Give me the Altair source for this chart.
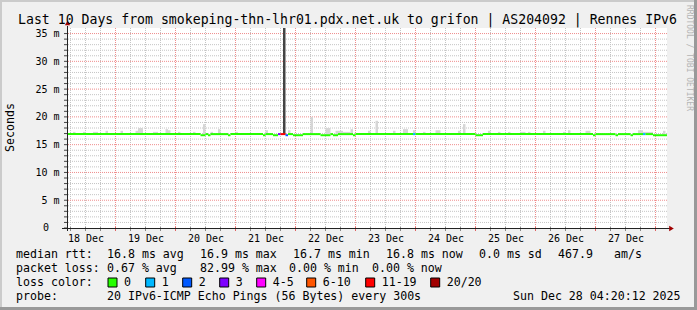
import altair as alt
import pandas as pd

FONT = "DejaVu Sans Mono"

# ---------------- data ----------------
TITLE = "Last 10 Days from smokeping-thn-lhr01.pdx.net.uk to grifon | AS204092 | Rennes IPv6"
Y_TITLE = "Seconds"
WATERMARK = "RRDTOOL / TOBI OETIKER"
DAY_LABELS = ["18 Dec", "19 Dec", "20 Dec", "21 Dec", "22 Dec",
              "23 Dec", "24 Dec", "25 Dec", "26 Dec", "27 Dec"]
DAY_NOON_HOURS = [12, 36, 60, 84, 108, 132, 156, 180, 204, 228]   # hours since 18 Dec 00:00
MIDNIGHT_HOURS = [24, 48, 72, 96, 120, 144, 168, 192, 216, 240]
SIX_HOUR_MARKS = [6, 12, 18, 30, 36, 42, 54, 60, 66, 78, 84, 90, 102, 108, 114,
                  126, 132, 138, 150, 156, 162, 174, 180, 186, 198, 204, 210,
                  222, 228, 234]
Y_TICKS = [5, 10, 15, 20, 25, 30, 35]
Y_MINOR = [1, 2, 3, 4, 6, 7, 8, 9, 11, 12, 13, 14, 16, 17, 18, 19, 21, 22, 23, 24,
           26, 27, 28, 29, 31, 32, 33, 34]
Y_ALL = list(range(0, 36))
X_START, X_END = 4.6, 244.6
Y_MAX = 36

# median rtt (ms) per segment, with its loss class
seg_start = [4, 58, 60, 61, 62, 69, 70, 83, 84, 87, 89, 90, 92, 93, 95, 99, 106, 110,
             111, 113, 119, 120, 143, 144, 168, 171, 215, 216, 224, 225, 230, 231, 235,
             236, 239]
seg_end = [58, 60, 61, 62, 69, 70, 83, 84, 87, 89, 90, 92, 93, 95, 99, 106, 110, 111,
           113, 119, 120, 143, 144, 168, 171, 215, 216, 224, 225, 230, 231, 235, 236,
           239, 245]
seg_median = [16.9, 16.7, 16.9, 16.7, 16.9, 16.7, 16.9, 16.7, 16.9, 16.7, 16.9, 16.9,
              16.7, 16.9, 16.7, 16.9, 16.7, 16.9, 16.7, 16.9, 16.7, 16.9, 16.9, 16.9,
              16.7, 16.9, 16.7, 16.9, 16.7, 16.9, 16.7, 16.9, 16.9, 16.9, 16.7]
seg_loss = ["0", "0", "0", "0", "0", "0", "0", "0", "0", "0", "3", "11-19", "2", "0",
            "0", "0", "0", "0", "0", "0", "0", "0", "1", "0", "0", "0", "0", "0", "0",
            "0", "0", "0", "1", "0", "0"]

# smoke (spread of the pings above the median), ms
smoke_start = [7, 11, 15, 20, 26, 32, 33, 39, 44, 45, 49, 55, 59, 62, 65, 72, 84, 93,
               102, 108, 112, 115, 118, 125, 128, 135, 139, 143, 147, 152, 161, 163,
               173, 177, 181, 186, 189, 195, 203, 205, 212, 233, 235, 243]
smoke_end = [8, 12, 17, 21, 27, 33, 35, 41, 45, 46, 50, 56, 60, 63, 66, 73, 85, 94,
             103, 110, 115, 118, 119, 126, 129, 136, 141, 144, 148, 154, 162, 164,
             174, 178, 182, 188, 190, 196, 204, 206, 214, 235, 239, 244]
smoke_top = [17.3, 17.3, 17.3, 17.5, 17.5, 17.5, 18.0, 17.3, 17.8, 17.6, 17.3, 17.3,
             18.7, 17.3, 17.8, 17.3, 17.6, 17.6, 20.0, 18.0, 17.5, 17.3, 17.8, 17.5,
             19.3, 17.5, 17.8, 17.6, 17.3, 17.6, 17.5, 18.7, 17.5, 17.3, 17.3, 17.3,
             17.3, 17.5, 17.3, 17.6, 17.5, 17.6, 17.3, 17.5]
smoke_base = 16.8

# dense outlier smoke at the loss event
spike_start = [91]
spike_end = [92]
spike_top = [36]

LOSS_LABELS = ["0", "1", "2", "3", "4-5", "6-10", "11-19", "20/20"]
LOSS_COLORS = ["#26ff00", "#00b8ff", "#0059ff", "#7e00ff", "#ff00ff", "#ff5500",
               "#ff0000", "#a10000"]

RTT_STATS = ["16.8 ms avg", "16.9 ms max", "16.7 ms min", "16.8 ms now",
             "0.0 ms sd", "467.9", "am/s"]
LOSS_STATS = ["0.67 % avg", "82.99 % max", "0.00 % min", "0.00 % now"]
PROBE = "20 IPv6-ICMP Echo Pings (56 Bytes) every 300s"
STAMP = "Sun Dec 28 04:20:12 2025"

# ---------------- layout (pixels in the 697x310 canvas) ----------------
L, T, W, H = 67, 28, 600, 200
RTT_X = [107, 200, 293, 386, 479, 558, 614]
LOSS_X = [107, 200, 289, 372]
SWATCH_X = [108, 145.7, 182.7, 219.7, 256.7, 306.7, 365.7, 430.7]
ROW_Y = [258, 272, 286, 300]

xs = alt.Scale(domain=[X_START, X_END], nice=False, zero=False)
ys = alt.Scale(domain=[0, Y_MAX], nice=False, zero=True)
one = pd.DataFrame({"k": [0]})

labels_js = "[" + ",".join("'" + d + "'" for d in DAY_LABELS) + "]"
X_AXIS = alt.Axis(values=DAY_NOON_HOURS, labelExpr=labels_js + "[round((datum.value-12)/24)]",
                  title=None, domain=False, ticks=False, tickSize=0, grid=False,
                  labelFont=FONT, labelFontSize=10, labelColor="#000000",
                  labelPadding=13, labelBaseline="alphabetic", labelFlush=False,
                  labelOverlap=False)
Y_AXIS = alt.Axis(values=Y_TICKS, labelExpr="datum.value + ' m'", title=None,
                  domain=False, ticks=False, tickSize=0, grid=False,
                  labelFont=FONT, labelFontSize=10, labelColor="#000000",
                  labelPadding=8, labelAlign="right", labelBaseline="middle",
                  labelFlush=False, labelOverlap=False)


def X(field):
    return alt.X(field, scale=xs, axis=X_AXIS)


def Y(field):
    return alt.Y(field, scale=ys, axis=Y_AXIS)


def text(xa, ya, s, size=11.6, align="left", baseline="alphabetic",
         color="#000000", angle=0):
    return alt.Chart(one).mark_text(
        font=FONT, fontSize=size, align=align, baseline=baseline,
        color=color, angle=angle
    ).encode(x=alt.value(xa - L), y=alt.value(ya - T), text=alt.value(s))


def box(x1, y1, x2, y2, fill, stroke=""):
    kw = dict(fill=fill, opacity=1)
    if stroke:
        kw.update(stroke=stroke, strokeWidth=1)
    else:
        kw.update(strokeWidth=0)
    return alt.Chart(one).mark_rect(**kw).encode(
        x=alt.value(x1 - L), x2=alt.value(x2 - L),
        y=alt.value(y1 - T), y2=alt.value(y2 - T))


layers = []

# grid (full-span rules)
layers.append(alt.Chart(pd.DataFrame({"v": Y_MINOR})).mark_rule(
    color="#c4c4c4", strokeDash=[1, 1], strokeWidth=1).encode(y=Y("v:Q")))
layers.append(alt.Chart(pd.DataFrame({"h": SIX_HOUR_MARKS})).mark_rule(
    color="#c4c4c4", strokeDash=[1, 1], strokeWidth=1).encode(x=X("h:Q")))
layers.append(alt.Chart(pd.DataFrame({"v": Y_TICKS})).mark_rule(
    color="#ef8c8c", strokeDash=[1, 1], strokeWidth=1).encode(y=Y("v:Q")))
layers.append(alt.Chart(pd.DataFrame({"h": MIDNIGHT_HOURS})).mark_rule(
    color="#ef8c8c", strokeDash=[1, 1], strokeWidth=1).encode(x=X("h:Q")))

# smoke
smoke_df = pd.DataFrame({"s": smoke_start, "e": smoke_end, "t": smoke_top})
smoke_df["b"] = smoke_base
layers.append(alt.Chart(smoke_df).mark_rect(color="#d6d6d6", clip=True).encode(
    x=X("s:Q"), x2="e:Q", y=Y("t:Q"), y2="b:Q"))

spike_df = pd.DataFrame({"s": spike_start, "e": spike_end, "t": spike_top})
spike_df["b"] = smoke_base
layers.append(alt.Chart(spike_df).mark_rect(color="#444444", clip=True).encode(
    x=X("s:Q"), x2="e:Q", y=Y("t:Q"), y2="b:Q"))

# median line coloured by loss
seg_df = pd.DataFrame({"s": seg_start, "e": seg_end, "m": seg_median, "loss": seg_loss})
layers.append(alt.Chart(seg_df).mark_rule(strokeWidth=2, clip=True).encode(
    x=X("s:Q"), x2="e:Q", y=Y("m:Q"),
    color=alt.Color("loss:N", scale=alt.Scale(domain=LOSS_LABELS, range=LOSS_COLORS),
                    legend=None)))

# zero label
layers.append(alt.Chart(pd.DataFrame({"v": [0]})).mark_text(
    font=FONT, fontSize=10, align="right", baseline="middle", color="#000000"
).encode(x=alt.value(-18), y=Y("v:Q"), text=alt.value("0")))

# tick marks
layers.append(alt.Chart(pd.DataFrame({"v": Y_ALL})).mark_tick(
    color="#444444", size=3, thickness=1, orient="horizontal", opacity=1
).encode(y=Y("v:Q"), x=alt.value(-1.5)))
layers.append(alt.Chart(pd.DataFrame({"h": SIX_HOUR_MARKS})).mark_tick(
    color="#888888", size=4, thickness=1, orient="vertical", opacity=1
).encode(x=X("h:Q"), y=alt.value(H + 1)))
layers.append(alt.Chart(pd.DataFrame({"h": MIDNIGHT_HOURS})).mark_tick(
    color="#e06060", size=4, thickness=1, orient="vertical", opacity=1
).encode(x=X("h:Q"), y=alt.value(H + 1)))

# axis lines + arrows
layers.append(alt.Chart(one).mark_rule(color="#222222", strokeWidth=1).encode(
    x=alt.value(-5), x2=alt.value(603), y=alt.value(H + 0.5)))
layers.append(alt.Chart(one).mark_rule(color="#222222", strokeWidth=1).encode(
    x=alt.value(0.5), y=alt.value(-2), y2=alt.value(H + 3)))
layers.append(alt.Chart(one).mark_point(shape="triangle-up", filled=True, size=28,
                                        color="#a00000", opacity=1).encode(
    x=alt.value(0.5), y=alt.value(-5)))
layers.append(alt.Chart(one).mark_point(shape="triangle-right", filled=True, size=28,
                                        color="#a00000", opacity=1).encode(
    x=alt.value(604.5), y=alt.value(H + 0.5)))

# titles
layers.append(text(347.5, 24, TITLE, size=13.2, align="center"))
layers.append(text(10.5, 127.5, Y_TITLE, size=11.6, align="center", baseline="middle", angle=270))
layers.append(text(689, 58, WATERMARK, size=8, align="center", baseline="middle",
                   color="#b4b4b4", angle=90))

# legend rows
layers.append(text(16, ROW_Y[0], "median rtt:"))
for xa, s in zip(RTT_X, RTT_STATS):
    layers.append(text(xa, ROW_Y[0], s))
layers.append(text(16, ROW_Y[1], "packet loss:"))
for xa, s in zip(LOSS_X, LOSS_STATS):
    layers.append(text(xa, ROW_Y[1], s))
layers.append(text(16, ROW_Y[2], "loss color:"))
for xa, lab, col in zip(SWATCH_X, LOSS_LABELS, LOSS_COLORS):
    layers.append(box(xa, ROW_Y[2] - 8, xa + 9, ROW_Y[2] + 1, col, stroke="#000000"))
    layers.append(text(xa + 16, ROW_Y[2], lab))
layers.append(text(16, ROW_Y[3], "probe:"))
layers.append(text(107, ROW_Y[3], PROBE))
layers.append(text(513, ROW_Y[3], STAMP))

# frame shading
layers.append(box(0, 0, 697, 2, "#cbcbcb"))
layers.append(box(0, 0, 2, 310, "#cbcbcb"))
layers.append(box(0, 307, 697, 310, "#999999"))
layers.append(box(694, 0, 697, 310, "#999999"))

chart = alt.layer(*layers).properties(
    width=W, height=H,
    padding={"left": L, "top": T, "right": 697 - L - W, "bottom": 310 - T - H},
    autosize=alt.AutoSizeParams(type="none"),
    background="#f0f0f0",
).configure_view(fill="#ffffff", strokeWidth=0)

chart.save("out.html", embed_options={"renderer": "svg", "actions": False})
